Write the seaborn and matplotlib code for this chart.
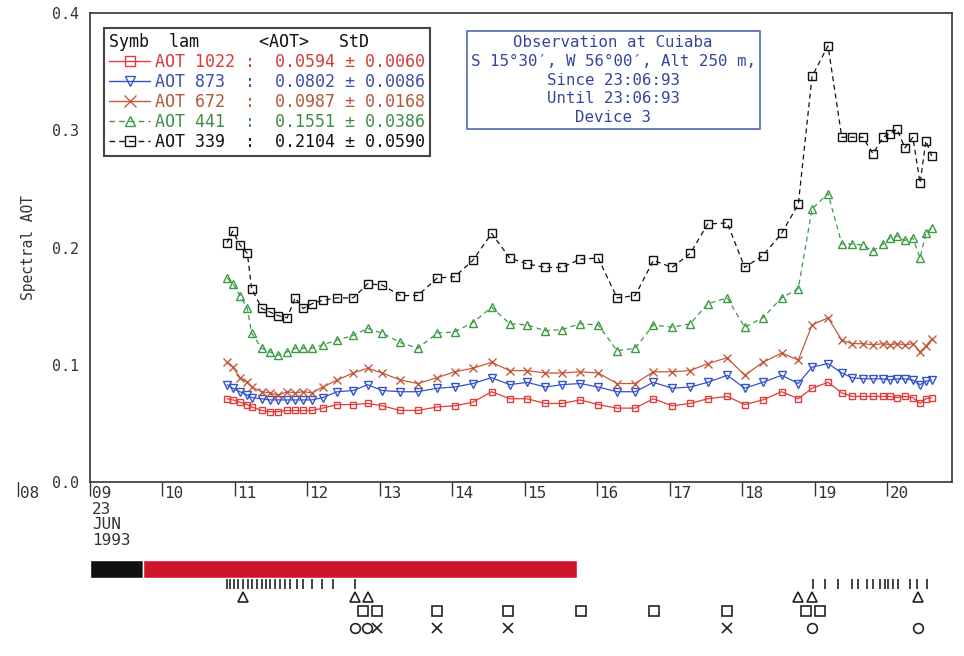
import matplotlib
matplotlib.use("Agg")
import matplotlib.pyplot as plt
import matplotlib.transforms as mtransforms
from matplotlib.lines import Line2D
import seaborn as sns

# Observation times (decimal local hours), Cuiaba, 23 June 1993
hours = [10.89, 10.97, 11.07, 11.17, 11.23, 11.37, 11.48, 11.59, 11.72, 11.83,
         11.94, 12.06, 12.21, 12.41, 12.63, 12.83, 13.03, 13.28, 13.52, 13.79,
         14.03, 14.28, 14.54, 14.79, 15.03, 15.28, 15.51, 15.76, 16.01, 16.27,
         16.52, 16.77, 17.03, 17.28, 17.52, 17.79, 18.03, 18.28, 18.54, 18.77,
         18.96, 19.18, 19.37, 19.51, 19.66, 19.80, 19.94, 20.03, 20.13, 20.24,
         20.35, 20.45, 20.53, 20.61]

aot_1022 = [0.071, 0.070, 0.068, 0.066, 0.064, 0.061, 0.060, 0.060, 0.061, 0.061,
            0.061, 0.061, 0.063, 0.066, 0.066, 0.067, 0.065, 0.061, 0.061, 0.064,
            0.065, 0.068, 0.077, 0.071, 0.071, 0.067, 0.067, 0.070, 0.066, 0.063,
            0.063, 0.071, 0.065, 0.067, 0.071, 0.073, 0.066, 0.070, 0.077, 0.071,
            0.080, 0.085, 0.076, 0.073, 0.073, 0.073, 0.073, 0.073, 0.072, 0.073,
            0.072, 0.067, 0.071, 0.072]

aot_873 = [0.083, 0.080, 0.077, 0.074, 0.072, 0.071, 0.070, 0.070, 0.070, 0.070,
           0.070, 0.070, 0.072, 0.077, 0.078, 0.083, 0.078, 0.077, 0.077, 0.080,
           0.081, 0.084, 0.089, 0.083, 0.085, 0.081, 0.083, 0.084, 0.081, 0.077,
           0.077, 0.085, 0.080, 0.081, 0.085, 0.091, 0.080, 0.085, 0.091, 0.084,
           0.098, 0.101, 0.093, 0.089, 0.088, 0.088, 0.088, 0.087, 0.088, 0.088,
           0.087, 0.083, 0.086, 0.087]

aot_672 = [0.102, 0.098, 0.089, 0.085, 0.081, 0.077, 0.076, 0.074, 0.077, 0.076,
           0.077, 0.076, 0.081, 0.087, 0.093, 0.097, 0.093, 0.087, 0.084, 0.089,
           0.094, 0.097, 0.102, 0.095, 0.095, 0.093, 0.093, 0.094, 0.093, 0.084,
           0.084, 0.094, 0.094, 0.095, 0.101, 0.106, 0.091, 0.102, 0.110, 0.104,
           0.134, 0.140, 0.121, 0.118, 0.118, 0.117, 0.118, 0.117, 0.118, 0.117,
           0.118, 0.111, 0.116, 0.122]

aot_441 = [0.174, 0.169, 0.159, 0.148, 0.127, 0.114, 0.111, 0.108, 0.111, 0.114,
           0.114, 0.114, 0.117, 0.121, 0.125, 0.131, 0.127, 0.119, 0.114, 0.127,
           0.128, 0.136, 0.149, 0.135, 0.134, 0.129, 0.130, 0.135, 0.134, 0.112,
           0.114, 0.134, 0.132, 0.135, 0.152, 0.157, 0.132, 0.140, 0.157, 0.165,
           0.233, 0.246, 0.203, 0.203, 0.202, 0.197, 0.203, 0.208, 0.210, 0.206,
           0.208, 0.191, 0.212, 0.217]

aot_339 = [0.204, 0.214, 0.202, 0.195, 0.165, 0.148, 0.145, 0.142, 0.140, 0.157,
           0.148, 0.152, 0.155, 0.157, 0.157, 0.169, 0.168, 0.159, 0.159, 0.174,
           0.175, 0.189, 0.212, 0.191, 0.186, 0.183, 0.183, 0.190, 0.191, 0.157,
           0.159, 0.189, 0.183, 0.195, 0.220, 0.221, 0.183, 0.193, 0.212, 0.237,
           0.346, 0.372, 0.294, 0.294, 0.294, 0.280, 0.294, 0.297, 0.301, 0.285,
           0.294, 0.255, 0.291, 0.278]

# Daily summary per channel
wavelengths = [1022, 873, 672, 441, 339]
aot_mean = [0.0594, 0.0802, 0.0987, 0.1551, 0.2104]
aot_std = [0.0060, 0.0086, 0.0168, 0.0386, 0.0590]

hour_ticks = list(range(9, 21))
hour_labels = ["09\n23\nJUN\n1993"] + [str(h) for h in range(10, 21)]
y_ticks = [0.0, 0.1, 0.2, 0.3, 0.4]

# Timeline strip under the chart
bar_start = [9.0, 9.73]
bar_end = [9.73, 15.72]
scan_hours = [10.89, 10.93, 10.99, 11.04, 11.11, 11.18, 11.23, 11.30, 11.37, 11.43,
              11.48, 11.55, 11.62, 11.69, 11.76, 11.86, 11.94, 12.06, 12.20, 12.35,
              12.66, 18.97, 19.14, 19.32, 19.51, 19.59, 19.72, 19.80, 19.90, 19.97,
              20.01, 20.08, 20.14, 20.31, 20.41, 20.55]
triangle_hours = [11.11, 12.66, 12.83, 18.77, 18.96, 20.42]
square_hours = [12.77, 12.96, 13.79, 14.77, 15.77, 16.78, 17.79, 18.88, 19.07]
circle_hours = [12.66, 12.82, 18.96, 20.42]
cross_hours = [12.96, 13.79, 14.77, 17.79]

sns.set_theme(style="white")
plt.rcParams["font.family"] = ["DejaVu Sans Mono", "DejaVu Sans"]

W, H = 964, 656
fig = plt.figure(figsize=(W / 100, H / 100), dpi=100)
ax = fig.add_axes([90 / W, 1 - 482 / H, 862 / W, 469 / H])

ink = "#333333"
styles = [
    (aot_1022, "#e03c3a", "s", "-", 5.0),
    (aot_873, "#3553c8", "v", "-", 5.5),
    (aot_672, "#c25a3c", "x", "-", 6.0),
    (aot_441, "#3d9a44", "^", (0, (4, 3)), 5.5),
    (aot_339, "#111111", "s", (0, (4, 3)), 5.5),
]
for vals, color, marker, ls, ms in styles:
    sns.lineplot(x=hours, y=vals, ax=ax, color=color, marker=marker,
                 linestyle=ls, lw=0.9, markersize=ms, markerfacecolor="none",
                 markeredgecolor=color, markeredgewidth=1.0,
                 estimator=None, errorbar=None, sort=False)

ax.set_xlim(9, 20.89)
ax.set_ylim(0, 0.4)
for sp in ax.spines.values():
    sp.set_color(ink)
    sp.set_linewidth(1.2)

ax.set_xticks(hour_ticks)
ax.set_xticklabels(hour_labels, ha="left")
ax.tick_params(axis="x", direction="out", length=10, width=1.0, color=ink,
               pad=-7, labelsize=11.5, labelcolor=ink, bottom=True)
shift = mtransforms.ScaledTranslation(2 / 100, 0, fig.dpi_scale_trans)
for lbl in ax.get_xticklabels():
    lbl.set_transform(lbl.get_transform() + shift)
    lbl.set_linespacing(1.05)

ax.set_yticks(y_ticks)
ax.set_yticklabels([f"{v:.1f}" for v in y_ticks])
ax.tick_params(axis="y", length=0, pad=8, labelsize=10.8, labelcolor=ink, left=True)
ax.set_ylabel("Spectral AOT", fontsize=10.5, color=ink)
ax.yaxis.set_label_coords(-0.063, 0.5)
ax.set_xlabel("")

# the 08 h mark sits left of the plotting window
blend = mtransforms.blended_transform_factory(ax.transData, ax.transAxes)
ax.plot([8, 8], [0, -0.03], transform=blend, clip_on=False, color=ink, lw=1.0)
ax.annotate("08", xy=(8, 0), xycoords=blend, xytext=(2, -3),
            textcoords="offset points", ha="left", va="top",
            fontsize=11.5, color=ink, annotation_clip=False)

# legend table
label_colors = ["#d43d3a", "#3c4fae", "#b9573d", "#3f8f46", "#111111"]
handles = [Line2D([], [], color=c, marker=m, linestyle=ls, lw=1.0,
                  markersize=ms, markerfacecolor="none", markeredgecolor=c)
           for _, c, m, ls, ms in styles]
labels = [f"AOT {w:<4d} :  {m:.4f} ± {s:.4f}"
          for w, m, s in zip(wavelengths, aot_mean, aot_std)]
leg = ax.legend(handles, labels, title="Symb  lam      <AOT>   StD",
                loc="upper left", bbox_to_anchor=(0.016, 0.968),
                borderaxespad=0, frameon=True, fancybox=False,
                edgecolor="#444444", framealpha=1, prop={"size": 12},
                title_fontsize=12, alignment="left", labelcolor=label_colors,
                handlelength=2.5, handletextpad=0.3, labelspacing=0.12,
                borderpad=0.3, markerscale=1.4)
leg.get_frame().set_linewidth(1.5)
leg.get_title().set_color("#111111")

info = ("Observation at Cuiaba\n"
        "S 15°30′, W 56°00′, Alt 250 m,\n"
        "Since 23:06:93\n"
        "Until 23:06:93\n"
        "Device 3")
ax.text(0.607, 0.857, info, transform=ax.transAxes, ha="center", va="center",
        color="#34449a", fontsize=11.3, linespacing=1.32,
        bbox=dict(boxstyle="square,pad=0.25", fc="white", ec="#5666b0", lw=1.2))

# timeline strip
ax2 = fig.add_axes([90 / W, 1 - 640 / H, 862 / W, 90 / H])
ax2.set_xlim(ax.get_xlim())
ax2.set_ylim(90, 0)
ax2.axis("off")
ax2.barh(19, [e - s for s, e in zip(bar_start, bar_end)], left=bar_start,
         height=18, color=["#111111", "#d0142c"])
ax2.vlines(scan_hours, 29, 39, color="#222222", lw=1.2)
mk = dict(ls="none", markerfacecolor="none", markeredgecolor="#222222",
          markeredgewidth=1.2, color="#222222")
ax2.plot(triangle_hours, [47] * len(triangle_hours), marker="^", markersize=7, **mk)
ax2.plot(square_hours, [61] * len(square_hours), marker="s", markersize=7, **mk)
ax2.plot(circle_hours, [78] * len(circle_hours), marker="o", markersize=7, **mk)
ax2.plot(cross_hours, [78] * len(cross_hours), marker="x", markersize=7, **mk)

fig.savefig("out.png", dpi=100, facecolor="white")
